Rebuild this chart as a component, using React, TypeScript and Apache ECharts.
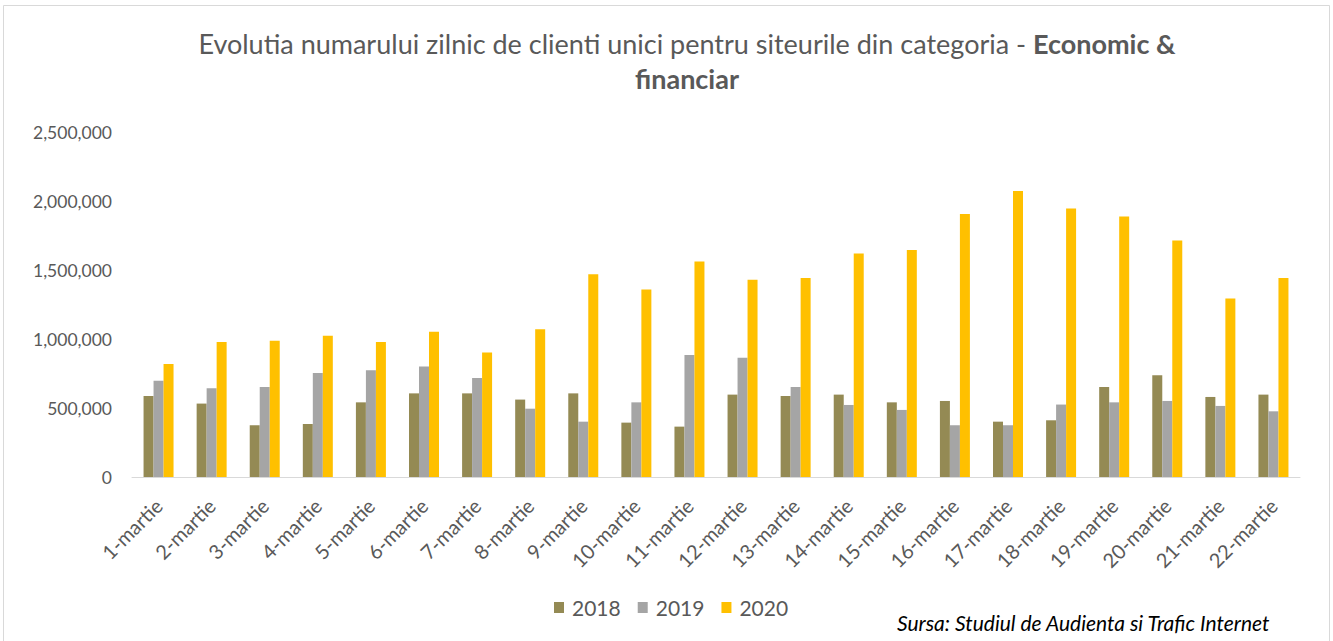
import React, { useEffect, useRef } from "react";
import * as echarts from "echarts";

const categories = [
  "1-martie", "2-martie", "3-martie", "4-martie", "5-martie", "6-martie", "7-martie", "8-martie",
  "9-martie", "10-martie", "11-martie", "12-martie", "13-martie", "14-martie", "15-martie",
  "16-martie", "17-martie", "18-martie", "19-martie", "20-martie", "21-martie", "22-martie",
];
const s2018 = [587000, 532000, 375000, 384000, 541000, 606000, 606000, 561000, 606000, 394000, 365000, 597000, 587000, 597000, 541000, 551000, 401000, 411000, 652000, 737000, 580000, 597000];
const s2019 = [698000, 643000, 652000, 754000, 773000, 800000, 717000, 495000, 401000, 541000, 884000, 865000, 652000, 522000, 486000, 375000, 375000, 525000, 541000, 551000, 515000, 476000];
const s2020 = [819000, 978000, 988000, 1024000, 978000, 1053000, 903000, 1070000, 1469000, 1358000, 1561000, 1430000, 1442000, 1619000, 1645000, 1906000, 2072000, 1945000, 1887000, 1713000, 1293000, 1442000];
const seriesNames = ["2018", "2019", "2020"];
const colors = ["#948A54", "#A5A5A5", "#FFC000"];

const FONT = "Lato, 'Open Sans', sans-serif";

export default function App() {
  const ref = useRef<HTMLDivElement>(null);
  useEffect(() => {
    if (!ref.current) return;
    const chart = echarts.init(ref.current, null, { renderer: "svg" });
    const data = [s2018, s2019, s2020];
    chart.setOption({
      animation: false,
      backgroundColor: "#ffffff",
      textStyle: { fontFamily: FONT },
      grid: { left: 132, right: 33, top: 132, bottom: 164, containLabel: false },
      legend: {
        data: seriesNames,
        left: 549,
        top: 592,
        icon: "rect",
        itemWidth: 10,
        itemHeight: 11,
        itemGap: 17,
        textStyle: { color: "#595959", fontSize: 21, fontFamily: FONT, padding: [0, 0, 0, 3] },
      },
      xAxis: {
        type: "category",
        data: categories,
        axisLine: { lineStyle: { color: "#D9D9D9", width: 1 } },
        axisTick: { show: false },
        axisLabel: { rotate: 45, color: "#595959", fontSize: 20, margin: 25, interval: 0, fontFamily: FONT },
      },
      yAxis: {
        type: "value",
        min: 0,
        max: 2500000,
        interval: 500000,
        splitLine: { show: false },
        axisLine: { show: false },
        axisTick: { show: false },
        axisLabel: {
          color: "#595959",
          fontSize: 17.5,
          margin: 20,
          fontFamily: FONT,
          formatter: (v: number) => v.toLocaleString("en-US"),
        },
      },
      series: seriesNames.map((n, i) => ({
        name: n,
        type: "bar",
        data: data[i],
        barWidth: 10,
        barGap: "0%",
        itemStyle: { color: colors[i] },
      })),
      graphic: [
        {
          type: "rect",
          shape: { x: 3.5, y: 5.5, width: 1326, height: 700 },
          style: { fill: "none", stroke: "#D9D9D9", lineWidth: 1 },
          silent: true,
        },
        {
          type: "text",
          x: 687,
          y: 26,
          style: {
            text: "{n|Evolutia numarului zilnic de clienti unici pentru siteurile din categoria - }{b|Economic &}\n{b|financiar}",
            align: "center",
            verticalAlign: "top",
            fontFamily: FONT,
            rich: {
              n: { fontSize: 27, fill: "#595959", fontFamily: FONT, lineHeight: 35 },
              b: { fontSize: 27, fill: "#595959", fontWeight: "bold", fontFamily: FONT, lineHeight: 35 },
            },
          },
        },
        {
          type: "text",
          x: 897,
          y: 622,
          style: {
            text: "Sursa: Studiul de Audienta si Trafic Internet",
            fontSize: 21,
            fontStyle: "italic",
            fill: "#000000",
            fontFamily: FONT,
            verticalAlign: "middle",
            align: "left",
          },
        },
      ],
    });
    return () => chart.dispose();
  }, []);
  return (
    <div
      ref={ref}
      style={{ position: "fixed", left: 0, top: 0, width: 1333, height: 641 }}
    />
  );
}
